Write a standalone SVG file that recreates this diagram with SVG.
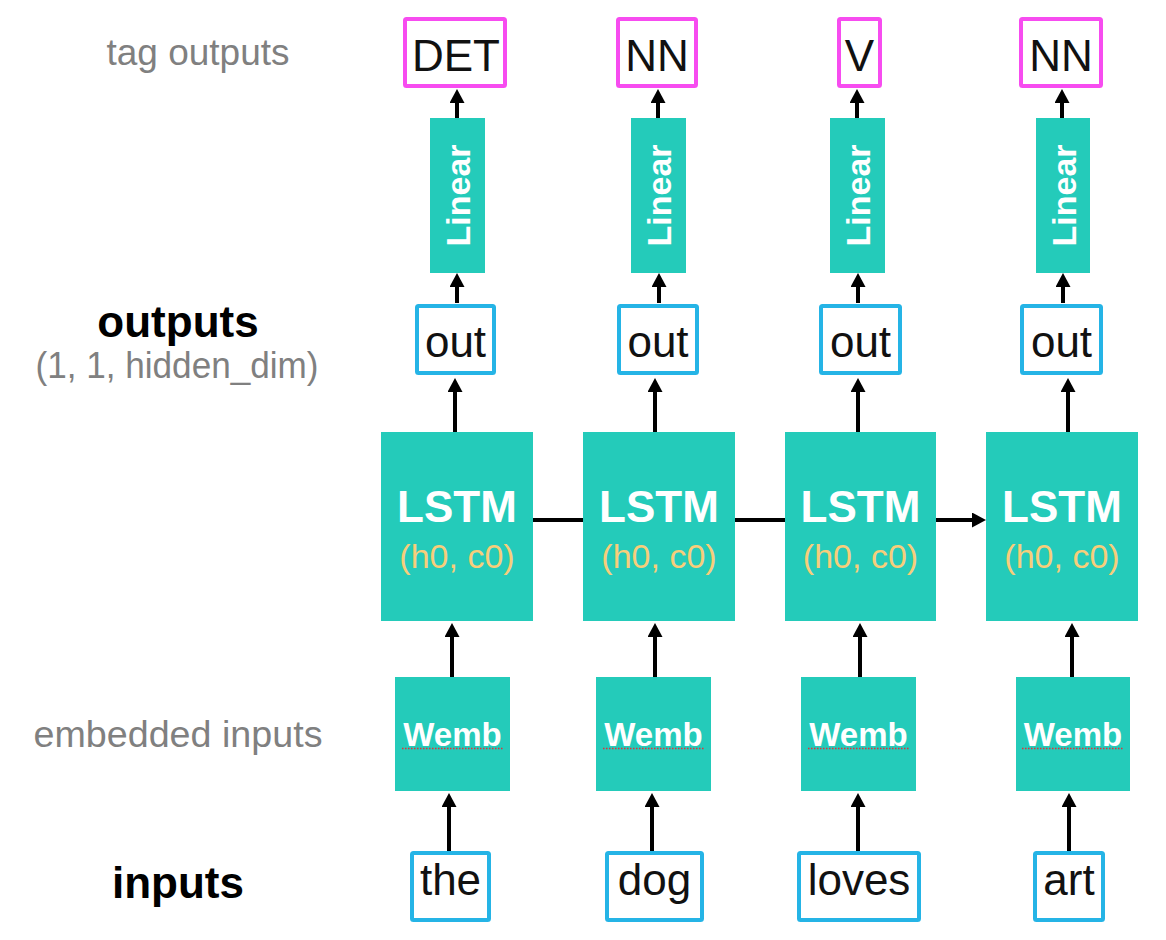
<svg xmlns="http://www.w3.org/2000/svg" width="1166" height="940" viewBox="0 0 1166 940">
<style>
.teal{fill:#24CBBA}
.tag{fill:#fff;stroke:#F74CF0;stroke-width:4}
.blue{fill:#fff;stroke:#25B4E6;stroke-width:4}
.t{font-family:"Liberation Sans",Arial,sans-serif;font-size:44px;fill:#111;text-anchor:middle}
.lbl{font-family:"Liberation Sans",Arial,sans-serif;font-size:36px;fill:#808080;text-anchor:middle}
.blbl{font-family:"Liberation Sans",Arial,sans-serif;font-size:44px;font-weight:bold;fill:#000;text-anchor:middle}
.lstm{font-family:"Liberation Sans",Arial,sans-serif;font-size:44px;font-weight:bold;fill:#fff;text-anchor:middle}
.hc{font-family:"Liberation Sans",Arial,sans-serif;font-size:34px;fill:#F7CE7A;text-anchor:middle}
.lin{font-family:"Liberation Sans",Arial,sans-serif;font-size:34px;font-weight:bold;fill:#fff;text-anchor:middle}
.wemb{font-family:"Liberation Sans",Arial,sans-serif;font-size:33px;font-weight:bold;fill:#fff;text-anchor:middle}
.sq{stroke:#E0303A;stroke-width:1.3;stroke-dasharray:1.5 1.5;fill:none}
.c{stroke:#000;stroke-width:4;fill:none}
.ca{stroke:#000;stroke-width:4;fill:none;marker-end:url(#ah)}
</style>
<defs>
<marker id="ah" markerUnits="userSpaceOnUse" viewBox="0 0 14 15" markerWidth="14" markerHeight="15" refX="3" refY="7.5" orient="auto">
<path d="M0,0 L14,7.5 L0,15 z" fill="#000"/>
</marker>
</defs>
<rect width="1166" height="940" fill="#fff"/>

<g id="labels">
<text class="lbl" x="198" y="65" textLength="183" lengthAdjust="spacingAndGlyphs">tag outputs</text>
<text class="blbl" x="178" y="337">outputs</text>
<text class="lbl" x="177" y="378" textLength="283" lengthAdjust="spacingAndGlyphs">(1, 1, hidden_dim)</text>
<text class="lbl" x="178" y="747" textLength="289" lengthAdjust="spacingAndGlyphs">embedded inputs</text>
<text class="blbl" x="178" y="898">inputs</text>
</g>

<g id="connectors">
<!-- Linear -> tag -->
<line class="ca" x1="457" y1="118" x2="457" y2="100"/>
<line class="ca" x1="658" y1="118" x2="658" y2="100"/>
<line class="ca" x1="857" y1="118" x2="857" y2="100"/>
<line class="ca" x1="1062" y1="118" x2="1062" y2="100"/>
<!-- out -> Linear -->
<line class="ca" x1="457" y1="303" x2="457" y2="284"/>
<line class="ca" x1="659" y1="303" x2="659" y2="284"/>
<line class="ca" x1="858" y1="303" x2="858" y2="284"/>
<line class="ca" x1="1063" y1="303" x2="1063" y2="284"/>
<!-- LSTM -> out -->
<line class="ca" x1="455" y1="433" x2="455" y2="389"/>
<line class="ca" x1="655" y1="433" x2="655" y2="389"/>
<line class="ca" x1="858" y1="433" x2="858" y2="389"/>
<line class="ca" x1="1068" y1="433" x2="1068" y2="389"/>
<!-- Wemb -> LSTM -->
<line class="ca" x1="452" y1="677" x2="452" y2="634"/>
<line class="ca" x1="655" y1="677" x2="655" y2="634"/>
<line class="ca" x1="860" y1="677" x2="860" y2="634"/>
<line class="ca" x1="1072" y1="677" x2="1072" y2="634"/>
<!-- input -> Wemb -->
<line class="ca" x1="449" y1="852" x2="449" y2="804"/>
<line class="ca" x1="652" y1="852" x2="652" y2="804"/>
<line class="ca" x1="858" y1="852" x2="858" y2="804"/>
<line class="ca" x1="1069" y1="852" x2="1069" y2="804"/>
<!-- LSTM chain -->
<line class="c" x1="533" y1="520" x2="583" y2="520"/>
<line class="c" x1="735" y1="520" x2="785" y2="520"/>
<line class="ca" x1="936" y1="520" x2="975" y2="520"/>
</g>

<g id="tag1"><rect class="tag" x="405" y="19" width="100" height="67" rx="1.5"/><text class="t" x="456" y="71">DET</text></g>
<g id="tag2"><rect class="tag" x="618" y="19" width="78" height="67" rx="1.5"/><text class="t" x="657" y="71">NN</text></g>
<g id="tag3"><rect class="tag" x="839" y="19" width="41" height="67" rx="1.5"/><text class="t" x="859.5" y="71">V</text></g>
<g id="tag4"><rect class="tag" x="1021" y="19" width="80" height="67" rx="1.5"/><text class="t" x="1061" y="71">NN</text></g>

<g id="linear1"><rect class="teal" x="430" y="118" width="55" height="155"/><text class="lin" transform="translate(470,195.5) rotate(-90)">Linear</text></g>
<g id="linear2"><rect class="teal" x="631" y="118" width="55" height="155"/><text class="lin" transform="translate(671,195.5) rotate(-90)">Linear</text></g>
<g id="linear3"><rect class="teal" x="830" y="118" width="55" height="155"/><text class="lin" transform="translate(870,195.5) rotate(-90)">Linear</text></g>
<g id="linear4"><rect class="teal" x="1036" y="118" width="54" height="155"/><text class="lin" transform="translate(1075.5,195.5) rotate(-90)">Linear</text></g>

<g id="out1"><rect class="blue" x="417" y="306" width="77" height="67" rx="1.5"/><text class="t" x="455.5" y="357">out</text></g>
<g id="out2"><rect class="blue" x="619" y="306" width="78" height="67" rx="1.5"/><text class="t" x="658" y="357">out</text></g>
<g id="out3"><rect class="blue" x="821" y="306" width="79" height="67" rx="1.5"/><text class="t" x="860.5" y="357">out</text></g>
<g id="out4"><rect class="blue" x="1022" y="306" width="79" height="67" rx="1.5"/><text class="t" x="1061.5" y="357">out</text></g>

<g id="lstm1"><rect class="teal" x="381" y="432" width="152" height="189"/><text class="lstm" x="457" y="522">LSTM</text><text class="hc" x="457" y="568">(h0, c0)</text></g>
<g id="lstm2"><rect class="teal" x="583" y="432" width="152" height="189"/><text class="lstm" x="659" y="522">LSTM</text><text class="hc" x="659" y="568">(h0, c0)</text></g>
<g id="lstm3"><rect class="teal" x="785" y="432" width="151" height="189"/><text class="lstm" x="860.5" y="522">LSTM</text><text class="hc" x="860.5" y="568">(h0, c0)</text></g>
<g id="lstm4"><rect class="teal" x="986" y="432" width="152" height="189"/><text class="lstm" x="1062" y="522">LSTM</text><text class="hc" x="1062" y="568">(h0, c0)</text></g>

<g id="wemb1"><rect class="teal" x="395" y="677" width="115" height="114"/><text class="wemb" x="452.5" y="746">Wemb</text><line class="sq" x1="402" y1="748.5" x2="503" y2="748.5"/></g>
<g id="wemb2"><rect class="teal" x="596" y="677" width="115" height="114"/><text class="wemb" x="653.5" y="746">Wemb</text><line class="sq" x1="603" y1="748.5" x2="704" y2="748.5"/></g>
<g id="wemb3"><rect class="teal" x="801" y="677" width="115" height="114"/><text class="wemb" x="858.5" y="746">Wemb</text><line class="sq" x1="808" y1="748.5" x2="909" y2="748.5"/></g>
<g id="wemb4"><rect class="teal" x="1016" y="677" width="114" height="114"/><text class="wemb" x="1073" y="746">Wemb</text><line class="sq" x1="1022" y1="748.5" x2="1123" y2="748.5"/></g>

<g id="in1"><rect class="blue" x="412" y="853" width="77" height="67" rx="1.5"/><text class="t" x="450.5" y="895">the</text></g>
<g id="in2"><rect class="blue" x="607" y="853" width="95" height="67" rx="1.5"/><text class="t" x="654.5" y="895">dog</text></g>
<g id="in3"><rect class="blue" x="799" y="853" width="120" height="67" rx="1.5"/><text class="t" x="859" y="895">loves</text></g>
<g id="in4"><rect class="blue" x="1035" y="853" width="68" height="67" rx="1.5"/><text class="t" x="1069" y="895">art</text></g>
</svg>
